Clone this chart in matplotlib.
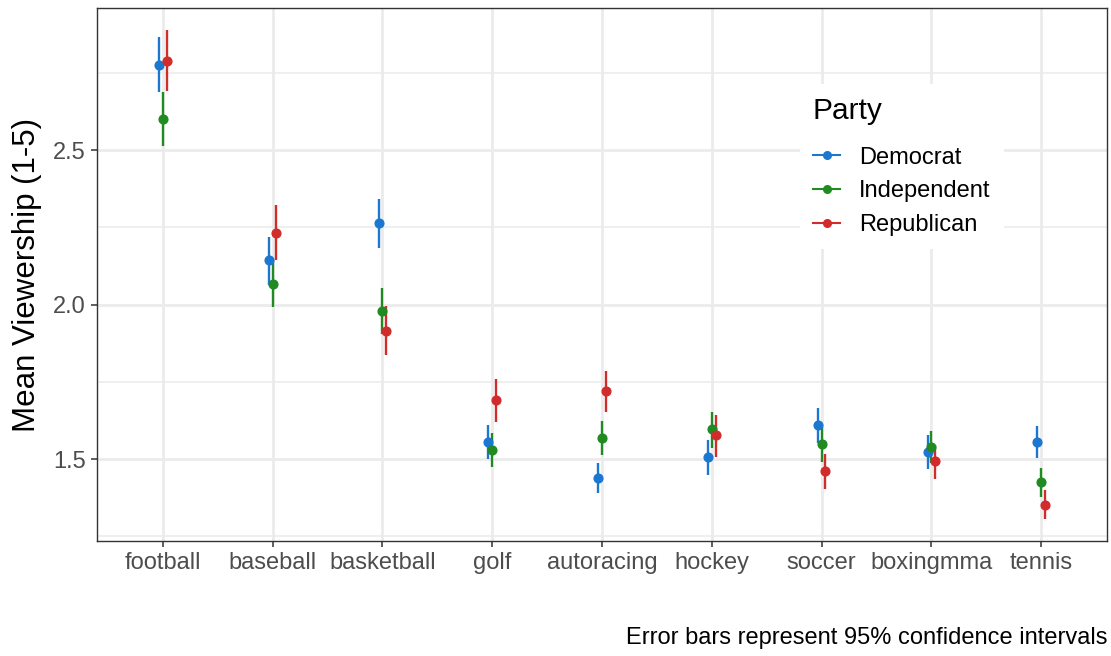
import matplotlib
matplotlib.use("Agg")
import matplotlib.pyplot as plt
from matplotlib.lines import Line2D
import numpy as np

plt.rcParams['font.family'] = ['Liberation Sans', 'DejaVu Sans']

sports = ["football", "baseball", "basketball", "golf", "autoracing",
          "hockey", "soccer", "boxingmma", "tennis"]
parties = ["Democrat", "Independent", "Republican"]

dem_mean = [2.775, 2.143, 2.263, 1.556, 1.438, 1.507, 1.610, 1.524, 1.556]
dem_lo   = [2.687, 2.063, 2.184, 1.500, 1.389, 1.450, 1.551, 1.469, 1.504]
dem_hi   = [2.865, 2.219, 2.341, 1.610, 1.487, 1.563, 1.667, 1.579, 1.608]

ind_mean = [2.601, 2.068, 1.979, 1.531, 1.569, 1.596, 1.549, 1.540, 1.425]
ind_lo   = [2.514, 1.992, 1.906, 1.476, 1.513, 1.537, 1.492, 1.486, 1.378]
ind_hi   = [2.687, 2.144, 2.053, 1.585, 1.623, 1.654, 1.605, 1.592, 1.471]

rep_mean = [2.789, 2.233, 1.916, 1.691, 1.719, 1.578, 1.460, 1.494, 1.353]
rep_lo   = [2.690, 2.146, 1.836, 1.620, 1.651, 1.508, 1.402, 1.437, 1.307]
rep_hi   = [2.888, 2.321, 1.995, 1.759, 1.785, 1.644, 1.517, 1.546, 1.401]

colors = ["#1C77D0", "#218A21", "#D22B2B"]
series = [(dem_mean, dem_lo, dem_hi), (ind_mean, ind_lo, ind_hi), (rep_mean, rep_lo, rep_hi)]
offsets = [-0.035, 0.0, 0.035]

fig = plt.figure(figsize=(11.11, 6.56), dpi=100)
ax = fig.add_axes([97/1111, 1-541/656, (1107-97)/1111, (541-8)/656])

x = np.arange(1, len(sports)+1)
for (m, lo, hi), c, off, name in zip(series, colors, offsets, parties):
    m = np.array(m); lo = np.array(lo); hi = np.array(hi)
    ax.vlines(x+off, lo, hi, color=c, lw=1.7, zorder=3)
    ax.plot(x+off, m, 'o', color=c, ms=6.3, zorder=4, label=name)

ax.set_xlim(0.4, 9.6)
ax.set_ylim(1.235, 2.96)
ax.set_xticks(x)
ax.set_xticklabels(sports)
ax.set_yticks([1.5, 2.0, 2.5])
ax.set_yticklabels(["1.5", "2.0", "2.5"])
ax.set_yticks([1.25, 1.75, 2.25, 2.75], minor=True)

ax.grid(which='major', color='#EBEBEB', lw=2.0, zorder=0)
ax.grid(which='minor', axis='y', color='#EBEBEB', lw=1.1, zorder=0)
ax.set_axisbelow(True)
for s in ax.spines.values():
    s.set_color('#333333')
    s.set_linewidth(1.0)
ax.tick_params(which='major', length=4, width=1.1, color='#333333',
               labelsize=17, labelcolor='#4D4D4D', pad=4)
ax.tick_params(which='minor', length=0)

ax.set_ylabel("Mean Viewership (1-5)", fontsize=22.5, labelpad=8)

handles = [Line2D([0], [0], color=c, lw=1.5, marker='o', ms=5.5) for c in colors]
leg = ax.legend(handles, parties, title="Party", loc='upper left',
                bbox_to_anchor=(800/1111, 1-84/656), bbox_transform=fig.transFigure,
                borderaxespad=0, frameon=True, fontsize=17, title_fontsize=21.5,
                handlelength=1.15, handletextpad=0.8, labelspacing=0.5,
                borderpad=0.55)
leg._legend_box.sep = 15.5
leg.get_frame().set_facecolor('white')
leg.get_frame().set_edgecolor('none')
leg.get_frame().set_alpha(1)
leg._legend_box.align = "left"

fig.text(1107/1111, 1-638/656, "Error bars represent 95% confidence intervals",
         ha='right', va='center', fontsize=17)

fig.savefig("out.png", dpi=100)
